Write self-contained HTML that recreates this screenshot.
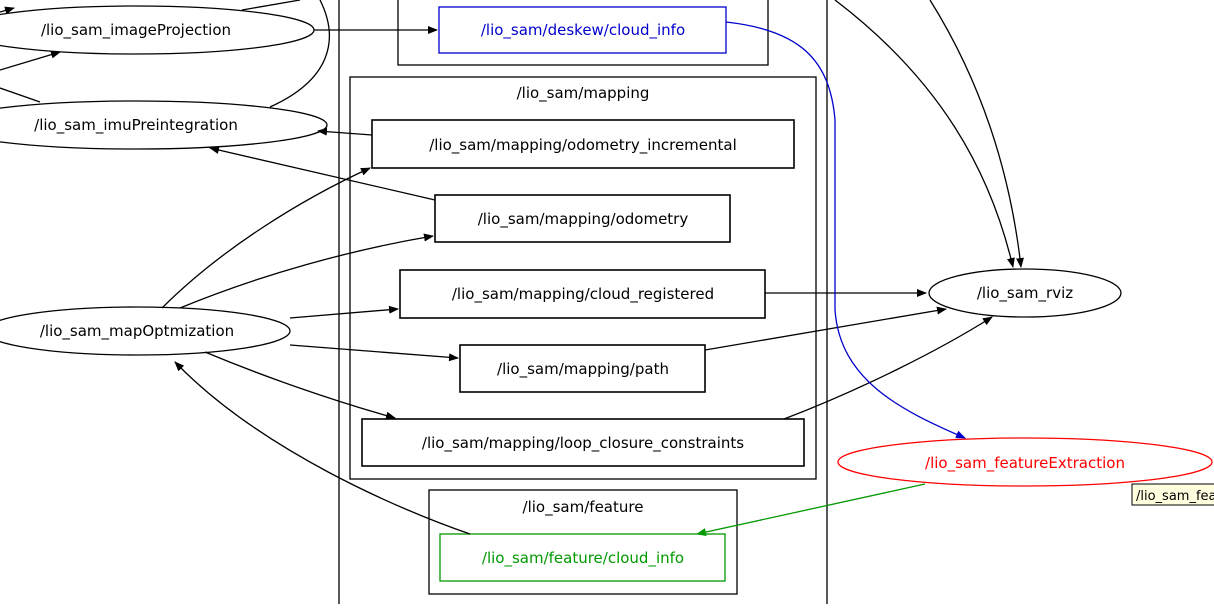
<!DOCTYPE html>
<html><head><meta charset="utf-8"><style>
body{margin:0;background:#fff;width:1214px;height:604px;overflow:hidden}
svg text{font-family:"DejaVu Sans","Liberation Sans",sans-serif;font-size:15px;text-anchor:middle}
</style></head><body>
<svg width="1214" height="604" viewBox="0 0 1214 604">
<defs>
<marker id="a" markerWidth="10" markerHeight="8" refX="9" refY="4" orient="auto" markerUnits="userSpaceOnUse"><path d="M0,0L10,4L0,8z" fill="#000"/></marker>
<marker id="b" markerWidth="10" markerHeight="8" refX="9" refY="4" orient="auto" markerUnits="userSpaceOnUse"><path d="M0,0L10,4L0,8z" fill="#00c"/></marker>
<marker id="g" markerWidth="10" markerHeight="8" refX="9" refY="4" orient="auto" markerUnits="userSpaceOnUse"><path d="M0,0L10,4L0,8z" fill="#090"/></marker>
</defs>
<g fill="none" stroke="#000" stroke-width="1.3">
<line x1="339" y1="0" x2="339" y2="604"/><line x1="827" y1="0" x2="827" y2="604"/>
<rect x="398" y="-5" width="370" height="70"/>
<rect x="350" y="77" width="466" height="402"/>
<rect x="429" y="490" width="308" height="104"/>
<rect x="372" y="120" width="422" height="48" stroke-width="1.6"/>
<rect x="435" y="195" width="295" height="47" stroke-width="1.6"/>
<rect x="400" y="270" width="365" height="48" stroke-width="1.6"/>
<rect x="460" y="345" width="245" height="47" stroke-width="1.6"/>
<rect x="362" y="419" width="442" height="47" stroke-width="1.6"/>
<rect x="439" y="7" width="287" height="46" stroke="#00c"/>
<rect x="440" y="534" width="285" height="47" stroke="#090"/>
<ellipse cx="136" cy="30" rx="178" ry="24"/>
<ellipse cx="136" cy="125" rx="191" ry="24"/>
<ellipse cx="137" cy="331" rx="153" ry="24"/>
<ellipse cx="1025" cy="293" rx="96" ry="24"/>
<ellipse cx="1025" cy="462" rx="187" ry="24" stroke="#f00"/>
<!-- edges -->
<path d="M242,10 L300,0"/>
<path d="M0,12 L14,8" marker-end="url(#a)"/>
<path d="M0,70 L60,52" marker-end="url(#a)"/>
<path d="M0,88 L40,102"/>
<path d="M270,107 C330,80 340,40 320,0"/>
<path d="M314,30 L437,30" marker-end="url(#a)"/>
<path d="M372,135 L318,131" marker-end="url(#a)"/>
<path d="M435,200 L210,148" marker-end="url(#a)"/>
<path d="M162,308 C220,250 300,200 370,168" marker-end="url(#a)"/>
<path d="M180,308 C260,275 350,250 433,236" marker-end="url(#a)"/>
<path d="M290,318 L398,309" marker-end="url(#a)"/>
<path d="M290,345 L458,358" marker-end="url(#a)"/>
<path d="M205,352 C260,375 330,400 395,418" marker-end="url(#a)"/>
<path d="M470,534 C400,510 260,450 175,362" marker-end="url(#a)"/>
<path d="M765,293 L926,293" marker-end="url(#a)"/>
<path d="M705,350 L946,309" marker-end="url(#a)"/>
<path d="M784,419 C860,390 940,350 992,317" marker-end="url(#a)"/>
<path d="M835,0 C940,80 990,170 1013,267" marker-end="url(#a)"/>
<path d="M930,0 C980,80 1010,170 1021,267" marker-end="url(#a)"/>
<path d="M726,22 C800,30 830,60 835,120 L835,310 C840,380 900,410 965,438" stroke="#00c" marker-end="url(#b)"/>
<path d="M925,484 L697,534" stroke="#090" marker-end="url(#g)"/>
</g>
<text x="136" y="35">/lio_sam_imageProjection</text>
<text x="136" y="130">/lio_sam_imuPreintegration</text>
<text x="137" y="336">/lio_sam_mapOptmization</text>
<text x="1025" y="298">/lio_sam_rviz</text>
<text x="1025" y="468" fill="#f00">/lio_sam_featureExtraction</text>
<text x="583" y="35" fill="#00c">/lio_sam/deskew/cloud_info</text>
<text x="583" y="98">/lio_sam/mapping</text>
<text x="583" y="150">/lio_sam/mapping/odometry_incremental</text>
<text x="583" y="224">/lio_sam/mapping/odometry</text>
<text x="583" y="299">/lio_sam/mapping/cloud_registered</text>
<text x="583" y="374">/lio_sam/mapping/path</text>
<text x="583" y="448">/lio_sam/mapping/loop_closure_constraints</text>
<text x="583" y="512">/lio_sam/feature</text>
<text x="583" y="563" fill="#090">/lio_sam/feature/cloud_info</text>
<rect x="1132" y="484" width="90" height="21" fill="#ffffe0" stroke="#000"/>
<text x="1136" y="500" style="text-anchor:start;font-size:13px">/lio_sam_feature</text>
</svg>
</body></html>
